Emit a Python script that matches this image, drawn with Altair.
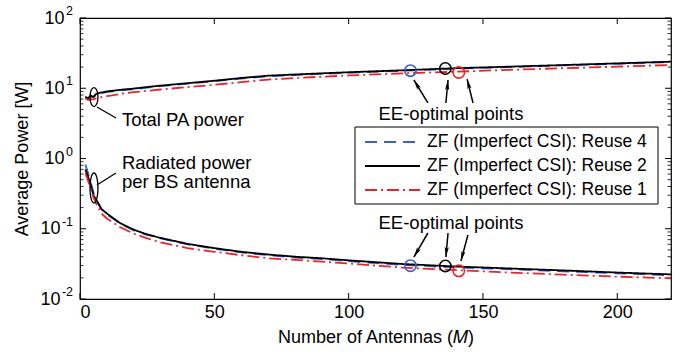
import math
import altair as alt
import pandas as pd

# ---------------- data ----------------
M = [2, 3, 4, 5, 6, 8, 10, 12, 15, 20, 25, 30, 40, 50, 60, 70, 80, 90, 100, 120, 140, 160, 180, 200, 220]

# Total PA power [W]
pa_reuse4 = [7.3, 7.0, 7.6, 7.5, 8.1, 8.5, 8.8, 9.0, 9.3, 9.7, 10.2, 10.7, 11.6, 12.6, 13.7, 14.8, 15.4, 16.0, 16.6, 17.7, 19.0, 20.0, 21.1, 22.3, 23.6]
pa_reuse2 = [7.6, 7.2, 7.9, 7.5, 8.3, 8.7, 9.0, 9.2, 9.5, 9.9, 10.4, 10.9, 11.8, 12.8, 14.0, 15.1, 15.7, 16.3, 16.9, 18.0, 19.3, 20.3, 21.4, 22.6, 23.9]
pa_reuse1 = [7.2, 6.8, 7.0, 6.9, 7.2, 7.5, 7.7, 7.9, 8.3, 8.8, 9.2, 9.6, 10.4, 11.2, 12.2, 13.3, 14.0, 14.6, 15.2, 16.3, 17.2, 18.3, 19.3, 20.3, 21.4]

# Radiated power per BS antenna [W]
rad_reuse4 = [0.82, 0.62, 0.45, 0.33, 0.26, 0.19, 0.16, 0.142, 0.118, 0.095, 0.082, 0.073, 0.060, 0.052, 0.046, 0.042, 0.039, 0.037, 0.0345, 0.0305, 0.0282, 0.0265, 0.0248, 0.0232, 0.0218]
rad_reuse2 = [0.70, 0.55, 0.42, 0.30, 0.26, 0.19, 0.165, 0.145, 0.12, 0.097, 0.083, 0.074, 0.061, 0.053, 0.047, 0.043, 0.040, 0.038, 0.0355, 0.0315, 0.029, 0.0272, 0.0255, 0.0238, 0.0224]
rad_reuse1 = [0.62, 0.48, 0.38, 0.28, 0.23, 0.165, 0.14, 0.125, 0.105, 0.085, 0.073, 0.064, 0.053, 0.047, 0.042, 0.038, 0.036, 0.034, 0.032, 0.028, 0.0258, 0.0238, 0.0222, 0.0208, 0.0197]

series_names = ["ZF (Imperfect CSI): Reuse 4", "ZF (Imperfect CSI): Reuse 2", "ZF (Imperfect CSI): Reuse 1"]
series_colors = ["#3c5fc8", "#000000", "#e8262a"]
series_dash = [[12, 7], [1, 0], [12, 4, 2, 4]]

# EE-optimal points
opt_M = [123, 136, 141]
opt_pa = [17.8, 19.1, 16.8]
opt_rad = [0.0298, 0.0295, 0.0252]

x_ticks = [0, 50, 100, 150, 200]
y_ticks = [0.01, 0.1, 1, 10, 100]
y_exps = ["-2", "-1", "0", "1", "2"]
y_minor = [k * 10.0 ** e for e in range(-2, 2) for k in range(2, 10)]

# annotations (data coordinates)
texts = ["Total PA power", "Radiated power", "per BS antenna", "EE-optimal points", "EE-optimal points"]
text_M = [15.6, 15.6, 15.6, 138.1, 138.1]
text_v = [3.53, 0.863, 0.462, 4.30, 0.121]
text_align = ["left", "left", "left", "center", "center"]

arrow_tail_M = [129.5, 136.2, 146.3, 129.5, 137.0, 144.4]
arrow_tail_v = [6.17, 6.17, 6.17, 0.087, 0.087, 0.0815]
arrow_head_M = [124.3, 137.0, 144.1, 124.3, 136.2, 141.8]
arrow_head_v = [13.1, 13.1, 13.5, 0.0396, 0.0396, 0.0348]

leader_M = [6.3, 13.4, 6.3, 13.4]
leader_v = [5.41, 3.77, 0.420, 0.622]

ell_M = [5.2, 5.2]
ell_v = [7.5, 0.38]
ell_h = [19, 30]

# ---------------- geometry ----------------
W, H = 591, 281
XMAX = 220.0


def px(m, v):
    return m / XMAX * W, (2 - math.log10(v)) / 4 * H


FONT = "Liberation Sans"
one = pd.DataFrame({"a": [0]})

xs = alt.Scale(domain=[0, XMAX], nice=False, zero=False)
ys = alt.Scale(type="log", domain=[0.01, 100], nice=False)

rows = []
for name, pa, rad in zip(series_names, [pa_reuse4, pa_reuse2, pa_reuse1], [rad_reuse4, rad_reuse2, rad_reuse1]):
    for m, a, r in zip(M, pa, rad):
        rows.append({"series": name, "curve": "pa", "M": m, "P": a})
        rows.append({"series": name, "curve": "rad", "M": m, "P": r})
df = pd.DataFrame(rows)

draw_order = {series_names[1]: 0, series_names[0]: 1, series_names[2]: 2}
df["ord"] = df["series"].map(draw_order)

x_enc = alt.X("M:Q", scale=xs, axis=alt.Axis(
    values=x_ticks, ticks=False, domain=False, grid=False, labelFontSize=18, labelPadding=4,
    labelFont=FONT, title="Number of Antennas (\U0001D440)", titleFont=FONT, titleFontSize=18,
    titleFontWeight="normal", titlePadding=7))
y_enc = alt.Y("P:Q", scale=ys, axis=alt.Axis(
    values=y_ticks, ticks=False, domain=False, grid=False, labelExpr="'10'", labelFontSize=18,
    labelFont=FONT, labelPadding={"condition": {"test": "datum.value < 1", "value": 20}, "value": 16},
    title="Average Power [W]", titleFont=FONT, titleFontSize=18, titleFontWeight="normal", titlePadding=8))

color_scale = alt.Scale(domain=series_names, range=series_colors)

lines = alt.Chart(df).mark_line(strokeWidth=1.8, clip=True).encode(
    x=x_enc, y=y_enc,
    color=alt.Color("series:N", scale=color_scale, legend=None),
    strokeDash=alt.StrokeDash("series:N", scale=alt.Scale(domain=series_names, range=series_dash),
                              legend=None),
    detail="curve:N",
    order="ord:Q",
)

opt_rows = []
for name, m, a, r in zip(series_names, opt_M, opt_pa, opt_rad):
    opt_rows.append({"series": name, "M": m, "P": a})
    opt_rows.append({"series": name, "M": m, "P": r})
opt_df = pd.DataFrame(opt_rows)
opt = alt.Chart(opt_df).mark_point(shape="circle", filled=False, size=130, strokeWidth=1.6, opacity=1).encode(
    x=alt.X("M:Q", scale=xs), y=alt.Y("P:Q", scale=ys),
    color=alt.Color("series:N", scale=color_scale, legend=None))

# annotation text
tdf = pd.DataFrame({"t": texts, "M": text_M, "P": text_v, "al": text_align})
ann_left = alt.Chart(tdf[tdf.al == "left"]).mark_text(align="left", baseline="middle", font=FONT, fontSize=18.5).encode(
    x=alt.X("M:Q", scale=xs), y=alt.Y("P:Q", scale=ys), text="t:N")
ann_center = alt.Chart(tdf[tdf.al == "center"]).mark_text(align="center", baseline="middle", font=FONT, fontSize=18.5).encode(
    x=alt.X("M:Q", scale=xs), y=alt.Y("P:Q", scale=ys), text="t:N")

# arrows
adf = pd.DataFrame({"M": arrow_tail_M, "P": arrow_tail_v, "M2": arrow_head_M, "P2": arrow_head_v})
shafts = alt.Chart(adf).mark_rule(color="black", strokeWidth=1.5).encode(
    x=alt.X("M:Q", scale=xs), y=alt.Y("P:Q", scale=ys), x2="M2:Q", y2="P2:Q")

head_layers = []
HEAD = 10.0
for tm, tv, hm, hv in zip(arrow_tail_M, arrow_tail_v, arrow_head_M, arrow_head_v):
    tx, ty = px(tm, tv)
    hx, hy = px(hm, hv)
    dx, dy = hx - tx, hy - ty
    L = math.hypot(dx, dy)
    ux, uy = dx / L, dy / L
    cx, cy = hx - ux * HEAD / 2, hy - uy * HEAD / 2
    ang = math.degrees(math.atan2(ux, -uy)) % 360
    cm = cx / W * XMAX
    cv = 10 ** (2 - cy / H * 4)
    hd = pd.DataFrame({"M": [cm], "P": [cv]})
    head_layers.append(alt.Chart(hd).mark_point(
        shape="M0,-1L0.42,1L0,0.6L-0.42,1Z", filled=True, size=HEAD * HEAD, angle=ang,
        color="black", opacity=1, strokeWidth=0).encode(
        x=alt.X("M:Q", scale=xs), y=alt.Y("P:Q", scale=ys)))

# leader lines to ellipses
ldf = pd.DataFrame({"M": leader_M[0::2], "P": leader_v[0::2], "M2": leader_M[1::2], "P2": leader_v[1::2]})
leaders = alt.Chart(ldf).mark_rule(color="black", strokeWidth=1.3).encode(
    x=alt.X("M:Q", scale=xs), y=alt.Y("P:Q", scale=ys), x2="M2:Q", y2="P2:Q")

ell_layers = []
for em, ev, eh in zip(ell_M, ell_v, ell_h):
    rx = 8.0 / eh
    path = f"M0,-1A{rx:.3f},1 0 1,0 0,1A{rx:.3f},1 0 1,0 0,-1Z"
    ell_layers.append(alt.Chart(pd.DataFrame({"M": [em], "P": [ev]})).mark_point(
        shape=path, filled=False, size=eh * eh, color="black", strokeWidth=1.3, opacity=1).encode(
        x=alt.X("M:Q", scale=xs), y=alt.Y("P:Q", scale=ys)))

# inward ticks (MATLAB style)
xt = pd.DataFrame({"M": x_ticks})
xtick_b = alt.Chart(xt).mark_rule(color="black", strokeWidth=1).encode(
    x=alt.X("M:Q", scale=xs), y=alt.value(H), y2=alt.value(H - 6))
xtick_t = alt.Chart(xt).mark_rule(color="black", strokeWidth=1).encode(
    x=alt.X("M:Q", scale=xs), y=alt.value(0), y2=alt.value(6))
yt = pd.DataFrame({"P": y_ticks, "e": y_exps})
ytick_l = alt.Chart(yt).mark_rule(color="black", strokeWidth=1).encode(
    y=alt.Y("P:Q", scale=ys), x=alt.value(0), x2=alt.value(6))
ytick_r = alt.Chart(yt).mark_rule(color="black", strokeWidth=1).encode(
    y=alt.Y("P:Q", scale=ys), x=alt.value(W), x2=alt.value(W - 6))
ym = pd.DataFrame({"P": y_minor})
ymin_l = alt.Chart(ym).mark_rule(color="black", strokeWidth=0.8).encode(
    y=alt.Y("P:Q", scale=ys), x=alt.value(0), x2=alt.value(3.5))
ymin_r = alt.Chart(ym).mark_rule(color="black", strokeWidth=0.8).encode(
    y=alt.Y("P:Q", scale=ys), x=alt.value(W), x2=alt.value(W - 3.5))
exps = alt.Chart(yt).mark_text(align="right", baseline="middle", dy=-7, font=FONT, fontSize=12.5).encode(
    y=alt.Y("P:Q", scale=ys), x=alt.value(-7), text="e:N")

# legend box (drawn manually, MATLAB style)
LX0, LX1, LY0, LY1 = 275, 578, 109, 186
leg_box = alt.Chart(one).mark_rect(fill="white", stroke="black", strokeWidth=1).encode(
    x=alt.value(LX0), x2=alt.value(LX1), y=alt.value(LY0), y2=alt.value(LY1))
leg_layers = []
for i, (name, col, dash) in enumerate(zip(series_names, series_colors, series_dash)):
    yy = LY0 + 15 + 24 * i
    leg_layers.append(alt.Chart(one).mark_rule(color=col, strokeDash=dash, strokeWidth=1.8).encode(
        x=alt.value(LX0 + 10), x2=alt.value(LX0 + 65), y=alt.value(yy)))
    leg_layers.append(alt.Chart(one).mark_text(align="left", baseline="middle", font=FONT, fontSize=17.5,
                                               text=name).encode(
        x=alt.value(LX0 + 72), y=alt.value(yy)))

chart = alt.layer(
    xtick_b, xtick_t, ytick_l, ytick_r, ymin_l, ymin_r,
    lines, opt, ann_left, ann_center, shafts, *head_layers, leaders, *ell_layers, exps,
    leg_box, *leg_layers,
).properties(
    width=W, height=H,
    autosize=alt.AutoSizeParams(type="none"),
    padding={"left": 80, "top": 18, "right": 19, "bottom": 53},
    background="white",
).configure_view(stroke="black", strokeWidth=1.2)

chart.save("out.html", embed_options={"renderer": "svg", "actions": False})
